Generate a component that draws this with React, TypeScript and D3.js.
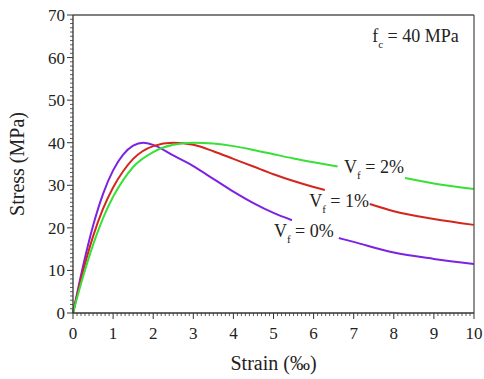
import { useMemo } from 'react'
import * as d3 from 'd3'

// strain (‰) / stress (MPa); each curve is broken where its label sits
const vf0SegA: [number, number][] = [
  [0, 0], [0.25, 11], [0.5, 20.5], [0.75, 28], [1.0, 33.5], [1.25, 37.2], [1.5, 39.3], [1.75, 40],
  [2.0, 39.5], [2.5, 37], [3.0, 34.5], [3.5, 31.5], [4.0, 28.5], [4.5, 25.8], [5.0, 23.5], [5.46, 21.8]
]
const vf0SegB: [number, number][] = [
  [6.63, 17.6], [7.0, 16.7], [8.0, 14.2], [9.0, 12.7], [10.0, 11.5]
]
const vf1SegA: [number, number][] = [
  [0, 0], [0.25, 9.8], [0.5, 18], [0.75, 24.5], [1.0, 29.5], [1.25, 33.3], [1.5, 36.2], [2.0, 39.2],
  [2.5, 40], [3.0, 39.5], [3.5, 38.0], [4.0, 36.2], [4.5, 34.4], [5.0, 32.6], [5.5, 31], [6.0, 29.6], [6.28, 28.9]
]
const vf1SegB: [number, number][] = [
  [7.4, 25.6], [8.0, 23.9], [9.0, 22.1], [10.0, 20.7]
]
const vf2SegA: [number, number][] = [
  [0, 0], [0.25, 8.5], [0.5, 16], [0.75, 22.3], [1.0, 27.3], [1.25, 31.2], [1.5, 34.3], [2.0, 37.8],
  [2.5, 39.5], [3.0, 40], [3.5, 39.8], [4.0, 39.2], [4.5, 38.3], [5.0, 37.3], [5.5, 36.3], [6.0, 35.4], [6.6, 34.4]
]
const vf2SegB: [number, number][] = [
  [8.28, 31.7], [9.0, 30.4], [10.0, 29.1]
]

const xTickValues = d3.range(0, 11)
const yTickValues = d3.range(0, 80, 10)

const series = [
  { name: '0', color: '#7d22e2', segs: [vf0SegA, vf0SegB], label: [5.01, 17.8] },
  { name: '1', color: '#d3261f', segs: [vf1SegA, vf1SegB], label: [5.89, 24.9] },
  { name: '2', color: '#38e038', segs: [vf2SegA, vf2SegB], label: [6.76, 32.9] }
]

const width = 484
const height = 379
const margin = { top: 15, right: 10, bottom: 66, left: 73 }
const font = "'Liberation Serif', 'Times New Roman', 'DejaVu Serif', serif"
const ink = '#333'

export default function App() {
  const x = useMemo(() => d3.scaleLinear().domain([0, 10]).range([margin.left, width - margin.right]), [])
  const y = useMemo(() => d3.scaleLinear().domain([0, 70]).range([height - margin.bottom, margin.top]), [])

  const line = d3.line<[number, number]>()
    .x(d => x(d[0]))
    .y(d => y(d[1]))
    .curve(d3.curveMonotoneX)

  const x0 = x(0), x1 = x(10), y0 = y(0), y1 = y(70)
  const xMinor = d3.range(0, 100).map(i => i / 10).filter(v => !Number.isInteger(v))
  const yMinor = d3.range(0, 70).filter(v => v % 10 !== 0)

  return (
    <svg width={width} height={height} style={{ position: 'absolute', left: 0, top: 0, fontFamily: font }}>
      <rect width={width} height={height} fill="#fff" />

      {/* curves */}
      {series.map(s => s.segs.map((seg, i) => (
        <path key={s.name + i} d={line(seg) || ''} fill="none" stroke={s.color} strokeWidth={2} />
      )))}

      {/* frame */}
      <line x1={x0} y1={y1} x2={x1} y2={y1} stroke="#555" strokeWidth={1.3} />
      <line x1={x1} y1={y1} x2={x1} y2={y0} stroke="#555" strokeWidth={1.3} />
      <line x1={x0} y1={y0} x2={x1} y2={y0} stroke={ink} strokeWidth={1.3} />
      <line x1={x0} y1={y0} x2={x0} y2={y1} stroke={ink} strokeWidth={1.3} />

      {/* x ticks */}
      {xMinor.map(v => <line key={'xm' + v} x1={x(v)} x2={x(v)} y1={y0} y2={y0 + 3} stroke={ink} strokeWidth={0.8} />)}
      {xTickValues.map(v => (
        <g key={'x' + v}>
          <line x1={x(v)} x2={x(v)} y1={y0} y2={y0 + 6} stroke={ink} strokeWidth={1} />
          <text x={x(v)} y={y0 + 26} textAnchor="middle" fontSize={17} fill="#222">{v}</text>
        </g>
      ))}

      {/* y ticks */}
      {yMinor.map(v => <line key={'ym' + v} x1={x0 - 3} x2={x0} y1={y(v)} y2={y(v)} stroke={ink} strokeWidth={0.8} />)}
      {yTickValues.map(v => (
        <g key={'y' + v}>
          <line x1={x0 - 6} x2={x0} y1={y(v)} y2={y(v)} stroke={ink} strokeWidth={1} />
          <text x={x0 - 8} y={y(v) + 6} textAnchor="end" fontSize={17} fill="#222">{v}</text>
        </g>
      ))}

      {/* axis titles */}
      <text x={(x0 + x1) / 2} y={370} textAnchor="middle" fontSize={20} fill="#222">Strain (‰)</text>
      <text transform={`translate(24, ${(y0 + y1) / 2}) rotate(-90)`} textAnchor="middle" fontSize={20} fill="#222">Stress (MPa)</text>

      {/* curve labels */}
      {series.map(s => (
        <text key={'l' + s.name} x={x(s.label[0])} y={y(s.label[1])} fontSize={18} fill="#222">
          V<tspan fontSize={11} dy={6}>f</tspan><tspan dy={-6}> = {s.name}%</tspan>
        </text>
      ))}

      <text x={x(7.46)} y={y(63.6)} fontSize={18} fill="#222">
        f<tspan fontSize={11} dy={6}>c</tspan><tspan dy={-6}> = 40 MPa</tspan>
      </text>
    </svg>
  )
}
